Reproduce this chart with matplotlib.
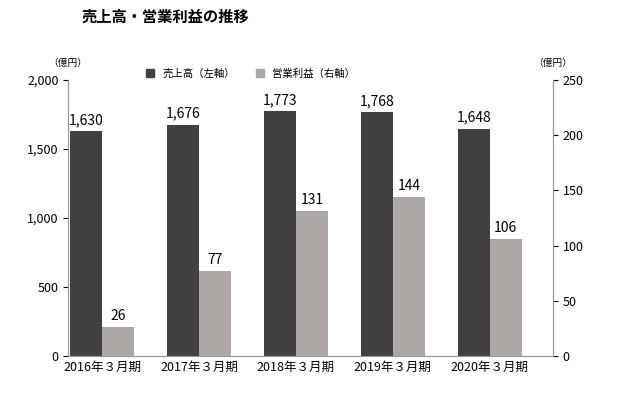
import matplotlib
matplotlib.use("Agg")
import matplotlib.pyplot as plt
import numpy as np
from matplotlib.patches import Patch

plt.rcParams['font.family'] = ['Noto Sans CJK JP', 'DejaVu Sans']

categories = ["2016年３月期", "2017年３月期", "2018年３月期", "2019年３月期", "2020年３月期"]
sales = [1630, 1676, 1773, 1768, 1648]
profit = [26, 77, 131, 144, 106]

dark = "#404040"
light = "#ABA8A6"

fig = plt.figure(figsize=(6.26, 4.0), dpi=100)
ax = fig.add_axes([0.109, 0.11, 0.774, 0.69])
ax2 = ax.twinx()

x = np.arange(len(categories))
w = 0.33
ax.bar(x - w/2, sales, w, color=dark)
ax2.bar(x + w/2, profit, w, color=light)
for xi, v in zip(x, sales):
    ax.text(xi - w/2, v + 30, f"{v:,}", ha='center', va='bottom', fontsize=10)
for xi, v in zip(x, profit):
    ax2.text(xi + w/2, v + 4, f"{v}", ha='center', va='bottom', fontsize=10)

ax.set_xlim(-0.35, 4.65)
ax.set_ylim(0, 2000)
ax2.set_ylim(0, 250)
ax.set_yticks([0, 500, 1000, 1500, 2000])
ax.set_yticklabels(["0", "500", "1,000", "1,500", "2,000"])
ax2.set_yticks([0, 50, 100, 150, 200, 250])
ax.set_xticks(x)
ax.set_xticklabels(categories)
for a in (ax, ax2):
    a.tick_params(labelsize=9, colors='black')
    a.spines['top'].set_visible(False)
    for s in a.spines.values():
        s.set_color('#999999')
ax.tick_params(axis='x', length=0)

fig.text(0.109, 0.835, "（億円）", fontsize=7, ha='center')
fig.text(0.883, 0.835, "（億円）", fontsize=7, ha='center')
fig.text(0.13, 0.945, "売上高・営業利益の推移", fontsize=11, fontweight='bold')

handles = [Patch(color=dark, label="売上高（左軸）"), Patch(color=light, label="営業利益（右軸）")]
fig.legend(handles=handles, loc='center', bbox_to_anchor=(0.4, 0.815), ncol=2,
           frameon=False, fontsize=7.5, handlelength=0.8, handleheight=0.8, columnspacing=2)

fig.savefig("out.png", dpi=100)
